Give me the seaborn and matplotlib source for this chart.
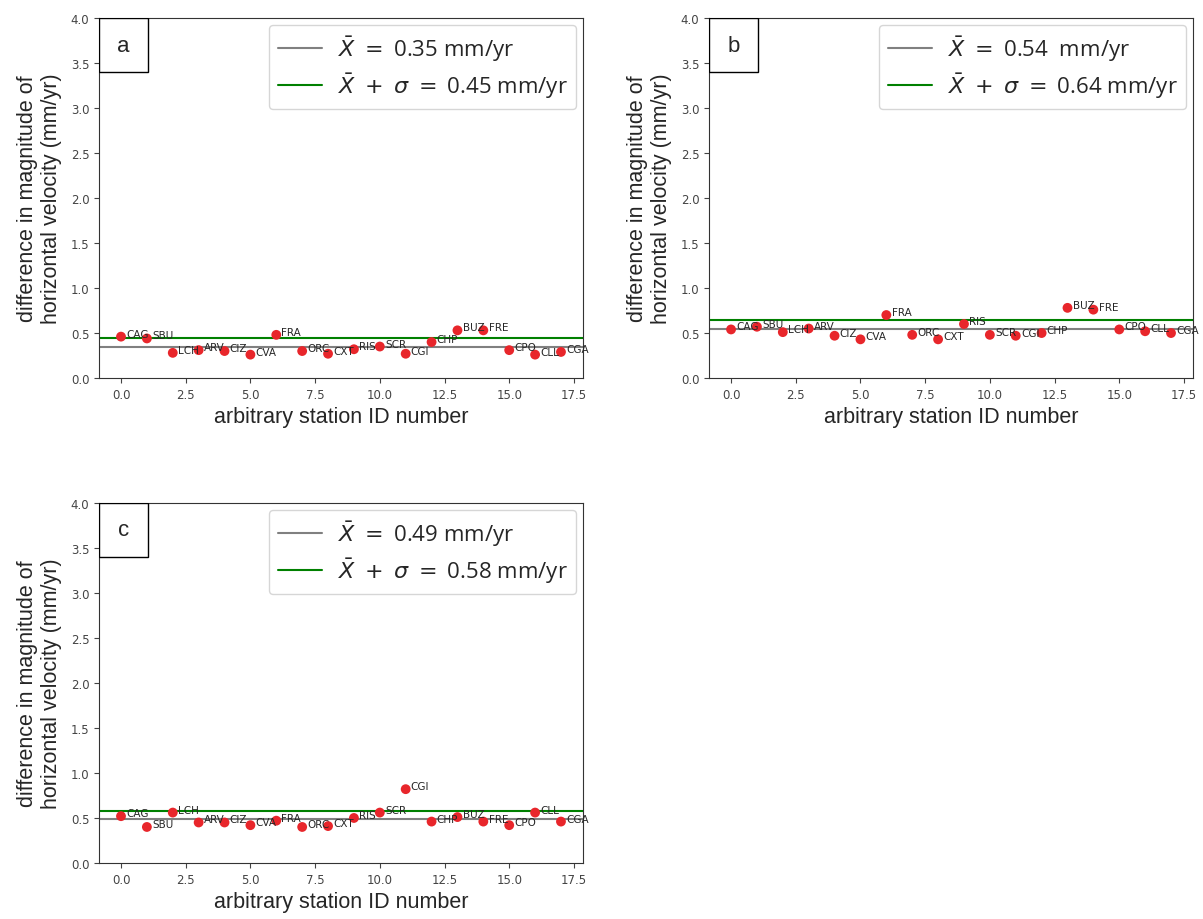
import numpy as np
import pandas as pd
import seaborn as sns
import matplotlib.pyplot as plt
from matplotlib.patches import Rectangle

stations = ['CAG', 'SBU', 'LCH', 'ARV', 'CIZ', 'CVA', 'FRA', 'ORC', 'CXT',
            'RIS', 'SCR', 'CGI', 'CHP', 'BUZ', 'FRE', 'CPO', 'CLL', 'CGA']
station_id = list(range(len(stations)))

# difference in horizontal velocity magnitude (mm/yr)
diff_a = [0.46, 0.44, 0.28, 0.31, 0.30, 0.26, 0.48, 0.30, 0.27,
          0.32, 0.35, 0.27, 0.40, 0.53, 0.53, 0.31, 0.26, 0.29]
diff_b = [0.54, 0.57, 0.51, 0.55, 0.47, 0.43, 0.70, 0.48, 0.43,
          0.60, 0.48, 0.47, 0.50, 0.78, 0.76, 0.54, 0.52, 0.50]
diff_c = [0.52, 0.40, 0.56, 0.45, 0.45, 0.42, 0.47, 0.40, 0.41,
          0.50, 0.56, 0.82, 0.46, 0.51, 0.46, 0.42, 0.56, 0.46]

panel_labels = ['a', 'b', 'c']
means = [0.35, 0.54, 0.49]
mean_plus_sigma = [0.45, 0.64, 0.58]
mean_text = ['0.35 mm/yr', '0.54  mm/yr', '0.49 mm/yr']
sigma_text = ['0.45 mm/yr', '0.64 mm/yr', '0.58 mm/yr']

sns.set_style('ticks')
plt.rcParams['font.family'] = ['DejaVu Sans']

fig = plt.figure(figsize=(12.03, 9.2), dpi=100)
positions = [[0.0823, 0.588, 0.4023, 0.3913],
             [0.5894, 0.588, 0.4023, 0.3913],
             [0.0823, 0.0609, 0.4023, 0.3913]]

for i, diff in enumerate([diff_a, diff_b, diff_c]):
    ax = fig.add_axes(positions[i])
    df = pd.DataFrame({'id': station_id, 'diff': diff, 'name': stations})

    ax.axhline(means[i], color='gray', lw=1.5,
               label=r'$\bar{X}\;=$ ' + mean_text[i])
    ax.axhline(mean_plus_sigma[i], color='green', lw=1.5,
               label=r'$\bar{X}\;+\;\sigma\;=$ ' + sigma_text[i])
    sns.scatterplot(data=df, x='id', y='diff', ax=ax, color='#e8262b',
                    s=50, edgecolor='none', zorder=3)
    for _, row in df.iterrows():
        ax.text(row['id'] + 0.2, row['diff'], row['name'], fontsize=7.5)

    ax.set_ylim(0, 4.0)
    ax.set_xlim(-0.85, 17.85)
    ax.set_yticks(np.arange(0, 4.01, 0.5))
    ax.set_xticks(np.arange(0, 17.6, 2.5))
    ax.tick_params(labelsize=8.5, colors='#444444')
    for sp in ax.spines.values():
        sp.set_color('#333333')

    ax.set_xlabel('arbitrary station ID number', fontsize=15.5,
                  family='Liberation Sans')
    ax.set_ylabel('difference in magnitude of\nhorizontal velocity (mm/yr)',
                  fontsize=15.5, family='Liberation Sans', labelpad=6)

    ax.legend(loc='upper right', prop={'family': 'Open Sans', 'size': 16},
              handlelength=2.0, borderaxespad=0.3, borderpad=0.4,
              labelspacing=0.35, handletextpad=0.7)

    ax.add_patch(Rectangle((0, 1), 0.101, -0.15, transform=ax.transAxes,
                           facecolor='white', edgecolor='black', lw=1, zorder=5))
    ax.text(0.0505, 0.925, panel_labels[i], transform=ax.transAxes,
            ha='center', va='center', fontsize=16, family='Liberation Sans', zorder=6)

fig.savefig('out.png', dpi=100)
